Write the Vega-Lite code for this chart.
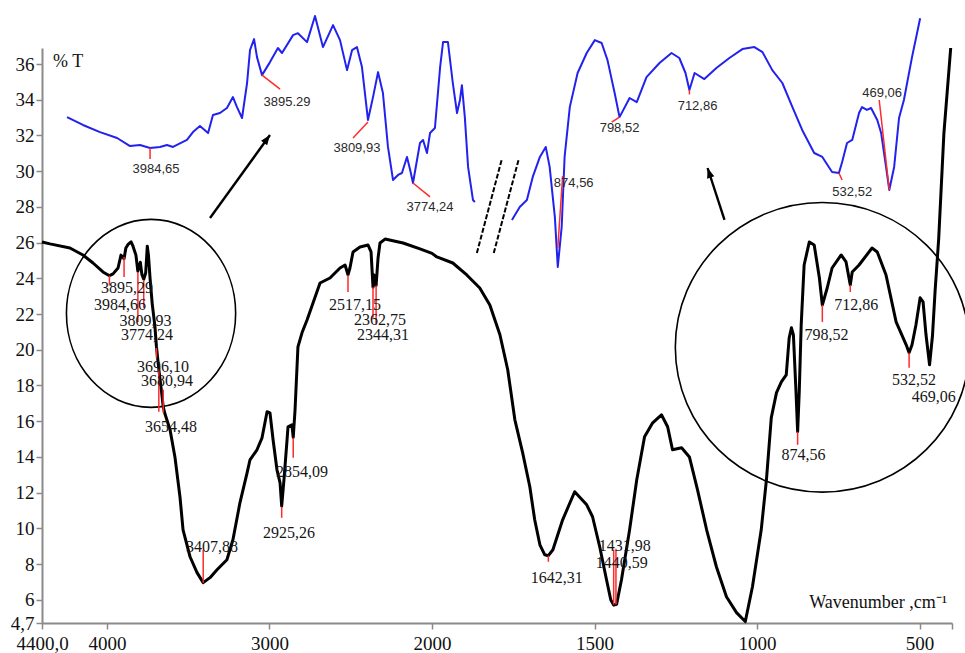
{
  "$schema": "https://vega.github.io/schema/vega-lite/v6.json",
  "width": 910,
  "height": 575,
  "autosize": {"type": "none"},
  "padding": {"left": 42, "top": 48, "right": 13, "bottom": 30},
  "background": "white",
  "config": {
    "view": {"stroke": null},
    "axis": {
      "grid": false,
      "domainColor": "#8a8a8a",
      "domainWidth": 2,
      "tickColor": "#8a8a8a",
      "tickWidth": 1.5,
      "tickSize": 6,
      "labelFont": "Liberation Serif",
      "labelFontSize": 19,
      "labelColor": "#111111",
      "title": null
    }
  },
  "datasets": {
    "spectrum": [
      {"wn": 4400, "t": 26.04}, {"wn": 4351, "t": 25.93}, {"wn": 4228, "t": 25.7}, {"wn": 4148, "t": 25.31},
      {"wn": 4086, "t": 24.86}, {"wn": 4025, "t": 24.36}, {"wn": 3985, "t": 24.15}, {"wn": 3963, "t": 24.25},
      {"wn": 3932, "t": 24.58}, {"wn": 3914, "t": 25.3}, {"wn": 3895, "t": 25.1}, {"wn": 3884, "t": 25.7},
      {"wn": 3870, "t": 25.9}, {"wn": 3852, "t": 26.05}, {"wn": 3840, "t": 25.8}, {"wn": 3822, "t": 25.3},
      {"wn": 3810, "t": 24.4}, {"wn": 3795, "t": 24.9}, {"wn": 3785, "t": 24.2}, {"wn": 3774, "t": 23.95},
      {"wn": 3762, "t": 24.3}, {"wn": 3752, "t": 25.8}, {"wn": 3745, "t": 25.3}, {"wn": 3735, "t": 24.0},
      {"wn": 3722, "t": 22.6}, {"wn": 3705, "t": 21.3}, {"wn": 3696, "t": 20.2}, {"wn": 3681, "t": 18.9},
      {"wn": 3665, "t": 17.7}, {"wn": 3654, "t": 16.8}, {"wn": 3643, "t": 16.4}, {"wn": 3612, "t": 15.52},
      {"wn": 3582, "t": 14.0}, {"wn": 3551, "t": 11.77}, {"wn": 3532, "t": 9.92}, {"wn": 3489, "t": 8.41},
      {"wn": 3446, "t": 7.52}, {"wn": 3408, "t": 6.96}, {"wn": 3366, "t": 7.24}, {"wn": 3323, "t": 7.68},
      {"wn": 3262, "t": 8.24}, {"wn": 3225, "t": 9.36}, {"wn": 3182, "t": 11.43}, {"wn": 3138, "t": 13.11},
      {"wn": 3120, "t": 13.84}, {"wn": 3077, "t": 14.4}, {"wn": 3046, "t": 15.07}, {"wn": 3015, "t": 16.53},
      {"wn": 2997, "t": 16.47}, {"wn": 2978, "t": 14.96}, {"wn": 2954, "t": 13.28}, {"wn": 2935, "t": 12.55},
      {"wn": 2925, "t": 11.25}, {"wn": 2911, "t": 12.72}, {"wn": 2892, "t": 14.96}, {"wn": 2886, "t": 15.69},
      {"wn": 2862, "t": 15.8}, {"wn": 2854, "t": 15.1}, {"wn": 2843, "t": 16.6}, {"wn": 2825, "t": 20.16},
      {"wn": 2800, "t": 20.95}, {"wn": 2769, "t": 21.67}, {"wn": 2689, "t": 23.74}, {"wn": 2628, "t": 24.02},
      {"wn": 2566, "t": 24.58}, {"wn": 2535, "t": 24.75}, {"wn": 2517, "t": 24.2}, {"wn": 2505, "t": 24.58},
      {"wn": 2486, "t": 25.48}, {"wn": 2443, "t": 25.76}, {"wn": 2394, "t": 25.87}, {"wn": 2375, "t": 25.48},
      {"wn": 2363, "t": 23.5}, {"wn": 2357, "t": 24.19}, {"wn": 2344, "t": 23.6}, {"wn": 2332, "t": 25.14},
      {"wn": 2320, "t": 25.98}, {"wn": 2289, "t": 26.2}, {"wn": 2178, "t": 25.98}, {"wn": 2074, "t": 25.65},
      {"wn": 2000, "t": 25.4}, {"wn": 1985, "t": 25.2}, {"wn": 1936, "t": 24.86}, {"wn": 1893, "t": 24.19},
      {"wn": 1853, "t": 23.46}, {"wn": 1822, "t": 22.51}, {"wn": 1791, "t": 20.84}, {"wn": 1767, "t": 18.88},
      {"wn": 1745, "t": 16.08}, {"wn": 1721, "t": 14.23}, {"wn": 1699, "t": 12.33}, {"wn": 1684, "t": 10.48},
      {"wn": 1668, "t": 9.08}, {"wn": 1653, "t": 8.52}, {"wn": 1642, "t": 8.47}, {"wn": 1628, "t": 8.8},
      {"wn": 1598, "t": 10.48}, {"wn": 1561, "t": 12.05}, {"wn": 1524, "t": 11.32}, {"wn": 1506, "t": 10.65},
      {"wn": 1484, "t": 8.97}, {"wn": 1463, "t": 7.12}, {"wn": 1450, "t": 6.0}, {"wn": 1441, "t": 5.7},
      {"wn": 1432, "t": 5.75}, {"wn": 1417, "t": 7.12}, {"wn": 1392, "t": 9.92}, {"wn": 1370, "t": 12.72},
      {"wn": 1346, "t": 15.13}, {"wn": 1321, "t": 15.91}, {"wn": 1294, "t": 16.36}, {"wn": 1275, "t": 15.69},
      {"wn": 1260, "t": 14.4}, {"wn": 1232, "t": 14.51}, {"wn": 1208, "t": 14.0}, {"wn": 1183, "t": 12.16},
      {"wn": 1155, "t": 9.92}, {"wn": 1125, "t": 7.85}, {"wn": 1094, "t": 6.17}, {"wn": 1063, "t": 5.28},
      {"wn": 1036, "t": 4.78}, {"wn": 1014, "t": 6.73}, {"wn": 987, "t": 9.92}, {"wn": 971, "t": 12.72},
      {"wn": 956, "t": 16.2}, {"wn": 940, "t": 17.6}, {"wn": 925, "t": 18.2}, {"wn": 910, "t": 18.6},
      {"wn": 901, "t": 20.67}, {"wn": 894, "t": 21.23}, {"wn": 888, "t": 20.84}, {"wn": 880, "t": 17.65},
      {"wn": 875, "t": 15.41}, {"wn": 870, "t": 17.65}, {"wn": 864, "t": 21.4}, {"wn": 855, "t": 24.75},
      {"wn": 839, "t": 26.04}, {"wn": 824, "t": 25.87}, {"wn": 808, "t": 24.02}, {"wn": 799, "t": 22.51},
      {"wn": 784, "t": 23.46}, {"wn": 769, "t": 24.58}, {"wn": 741, "t": 25.31}, {"wn": 726, "t": 24.92},
      {"wn": 713, "t": 23.63}, {"wn": 707, "t": 24.36}, {"wn": 686, "t": 24.75}, {"wn": 646, "t": 25.7},
      {"wn": 630, "t": 25.48}, {"wn": 603, "t": 24.19}, {"wn": 572, "t": 21.56}, {"wn": 541, "t": 20.28},
      {"wn": 532, "t": 19.83}, {"wn": 523, "t": 20.28}, {"wn": 511, "t": 21.39}, {"wn": 498, "t": 22.91},
      {"wn": 489, "t": 22.68}, {"wn": 480, "t": 20.84}, {"wn": 469, "t": 19.16}, {"wn": 460, "t": 20.8},
      {"wn": 452, "t": 23.3}, {"wn": 441, "t": 26.2}, {"wn": 425, "t": 32.1}, {"wn": 404, "t": 36.9}
    ],
    "zoomed": [
      {"seg": 1, "wn": 4246, "t": 33.03}, {"seg": 1, "wn": 4148, "t": 32.59}, {"seg": 1, "wn": 4043, "t": 32.19},
      {"seg": 1, "wn": 3938, "t": 31.86}, {"seg": 1, "wn": 3858, "t": 31.41}, {"seg": 1, "wn": 3797, "t": 31.47},
      {"seg": 1, "wn": 3735, "t": 31.3}, {"seg": 1, "wn": 3674, "t": 31.36}, {"seg": 1, "wn": 3631, "t": 31.47},
      {"seg": 1, "wn": 3594, "t": 31.36}, {"seg": 1, "wn": 3508, "t": 31.75}, {"seg": 1, "wn": 3471, "t": 32.19},
      {"seg": 1, "wn": 3428, "t": 32.53}, {"seg": 1, "wn": 3378, "t": 32.14}, {"seg": 1, "wn": 3348, "t": 33.15},
      {"seg": 1, "wn": 3305, "t": 33.26}, {"seg": 1, "wn": 3262, "t": 33.54}, {"seg": 1, "wn": 3225, "t": 34.15},
      {"seg": 1, "wn": 3200, "t": 33.59}, {"seg": 1, "wn": 3169, "t": 32.98}, {"seg": 1, "wn": 3138, "t": 34.94},
      {"seg": 1, "wn": 3120, "t": 36.78}, {"seg": 1, "wn": 3095, "t": 37.4}, {"seg": 1, "wn": 3077, "t": 36.39},
      {"seg": 1, "wn": 3046, "t": 35.38}, {"seg": 1, "wn": 2997, "t": 36.11}, {"seg": 1, "wn": 2948, "t": 36.9},
      {"seg": 1, "wn": 2923, "t": 36.62}, {"seg": 1, "wn": 2855, "t": 37.62}, {"seg": 1, "wn": 2825, "t": 37.73},
      {"seg": 1, "wn": 2769, "t": 37.23}, {"seg": 1, "wn": 2720, "t": 38.69}, {"seg": 1, "wn": 2671, "t": 36.95},
      {"seg": 1, "wn": 2609, "t": 38.18}, {"seg": 1, "wn": 2566, "t": 37.34}, {"seg": 1, "wn": 2523, "t": 35.66},
      {"seg": 1, "wn": 2492, "t": 36.78}, {"seg": 1, "wn": 2462, "t": 36.95}, {"seg": 1, "wn": 2431, "t": 35.83},
      {"seg": 1, "wn": 2394, "t": 32.87}, {"seg": 1, "wn": 2363, "t": 34.15}, {"seg": 1, "wn": 2332, "t": 35.55},
      {"seg": 1, "wn": 2302, "t": 34.38}, {"seg": 1, "wn": 2271, "t": 31.36}, {"seg": 1, "wn": 2240, "t": 29.51},
      {"seg": 1, "wn": 2209, "t": 29.79}, {"seg": 1, "wn": 2185, "t": 29.9}, {"seg": 1, "wn": 2154, "t": 30.8},
      {"seg": 1, "wn": 2135, "t": 30.1}, {"seg": 1, "wn": 2117, "t": 29.34}, {"seg": 1, "wn": 2074, "t": 31.58},
      {"seg": 1, "wn": 2055, "t": 31.75}, {"seg": 1, "wn": 2031, "t": 31.02}, {"seg": 1, "wn": 2012, "t": 32.14},
      {"seg": 1, "wn": 1991, "t": 32.42}, {"seg": 1, "wn": 1975, "t": 35.83}, {"seg": 1, "wn": 1966, "t": 37.23},
      {"seg": 1, "wn": 1951, "t": 37.23}, {"seg": 1, "wn": 1936, "t": 34.94}, {"seg": 1, "wn": 1923, "t": 33.26},
      {"seg": 1, "wn": 1914, "t": 33.99}, {"seg": 1, "wn": 1908, "t": 34.82}, {"seg": 1, "wn": 1899, "t": 33.03},
      {"seg": 1, "wn": 1889, "t": 30.24}, {"seg": 1, "wn": 1874, "t": 28.39}, {"seg": 1, "wn": 1868, "t": 28.28},
      {"seg": 2, "wn": 1754, "t": 27.27}, {"seg": 2, "wn": 1730, "t": 28.0}, {"seg": 2, "wn": 1708, "t": 28.39},
      {"seg": 2, "wn": 1690, "t": 29.68}, {"seg": 2, "wn": 1668, "t": 30.8}, {"seg": 2, "wn": 1650, "t": 31.36},
      {"seg": 2, "wn": 1638, "t": 30.24}, {"seg": 2, "wn": 1622, "t": 27.44}, {"seg": 2, "wn": 1613, "t": 24.64},
      {"seg": 2, "wn": 1601, "t": 26.88}, {"seg": 2, "wn": 1592, "t": 30.8}, {"seg": 2, "wn": 1576, "t": 33.59},
      {"seg": 2, "wn": 1552, "t": 35.5}, {"seg": 2, "wn": 1524, "t": 36.62}, {"seg": 2, "wn": 1499, "t": 37.34},
      {"seg": 2, "wn": 1478, "t": 37.18}, {"seg": 2, "wn": 1460, "t": 36.22}, {"seg": 2, "wn": 1438, "t": 34.38},
      {"seg": 2, "wn": 1423, "t": 33.03}, {"seg": 2, "wn": 1392, "t": 34.1}, {"seg": 2, "wn": 1370, "t": 33.87},
      {"seg": 2, "wn": 1340, "t": 35.27}, {"seg": 2, "wn": 1300, "t": 36.06}, {"seg": 2, "wn": 1263, "t": 36.62},
      {"seg": 2, "wn": 1239, "t": 36.34}, {"seg": 2, "wn": 1220, "t": 35.5}, {"seg": 2, "wn": 1208, "t": 34.55},
      {"seg": 2, "wn": 1192, "t": 35.5}, {"seg": 2, "wn": 1162, "t": 35.16}, {"seg": 2, "wn": 1125, "t": 35.78},
      {"seg": 2, "wn": 1085, "t": 36.34}, {"seg": 2, "wn": 1045, "t": 36.84}, {"seg": 2, "wn": 1008, "t": 36.95},
      {"seg": 2, "wn": 983, "t": 36.67}, {"seg": 2, "wn": 953, "t": 35.66}, {"seg": 2, "wn": 922, "t": 34.94},
      {"seg": 2, "wn": 891, "t": 33.59}, {"seg": 2, "wn": 861, "t": 32.31}, {"seg": 2, "wn": 824, "t": 31.02},
      {"seg": 2, "wn": 799, "t": 30.8}, {"seg": 2, "wn": 769, "t": 29.96}, {"seg": 2, "wn": 748, "t": 29.9},
      {"seg": 2, "wn": 738, "t": 30.52}, {"seg": 2, "wn": 723, "t": 31.58}, {"seg": 2, "wn": 707, "t": 31.75},
      {"seg": 2, "wn": 686, "t": 33.26}, {"seg": 2, "wn": 677, "t": 33.59}, {"seg": 2, "wn": 662, "t": 33.43},
      {"seg": 2, "wn": 649, "t": 33.54}, {"seg": 2, "wn": 630, "t": 32.87}, {"seg": 2, "wn": 618, "t": 32.14},
      {"seg": 2, "wn": 603, "t": 30.24}, {"seg": 2, "wn": 593, "t": 28.95}, {"seg": 2, "wn": 578, "t": 30.24},
      {"seg": 2, "wn": 563, "t": 32.98}, {"seg": 2, "wn": 548, "t": 33.99}, {"seg": 2, "wn": 523, "t": 36.39},
      {"seg": 2, "wn": 498, "t": 38.57}
    ],
    "peakMarks": [
      {"wn": 3985, "t": 24.15, "wn2": 3985, "t2": 23.6},
      {"wn": 3895, "t": 25.2, "wn2": 3895, "t2": 24.08},
      {"wn": 3810, "t": 24.36, "wn2": 3810, "t2": 21.56},
      {"wn": 3774, "t": 23.91, "wn2": 3774, "t2": 22.35},
      {"wn": 3696, "t": 20.1, "wn2": 3696, "t2": 19.55},
      {"wn": 3681, "t": 18.93, "wn2": 3681, "t2": 16.53},
      {"wn": 3654, "t": 17.76, "wn2": 3654, "t2": 16.47},
      {"wn": 3408, "t": 8.8, "wn2": 3408, "t2": 6.96},
      {"wn": 2925, "t": 11.21, "wn2": 2925, "t2": 10.59},
      {"wn": 2854, "t": 15.07, "wn2": 2854, "t2": 13.95},
      {"wn": 2517, "t": 24.19, "wn2": 2517, "t2": 23.24},
      {"wn": 2363, "t": 23.5, "wn2": 2363, "t2": 21.8},
      {"wn": 2344, "t": 23.6, "wn2": 2344, "t2": 21.4},
      {"wn": 1642, "t": 8.47, "wn2": 1642, "t2": 8.13},
      {"wn": 1441, "t": 8.8, "wn2": 1441, "t2": 5.73},
      {"wn": 1434, "t": 8.8, "wn2": 1434, "t2": 5.73},
      {"wn": 875, "t": 15.41, "wn2": 875, "t2": 14.68},
      {"wn": 799, "t": 22.51, "wn2": 799, "t2": 21.56},
      {"wn": 713, "t": 23.63, "wn2": 713, "t2": 23.24},
      {"wn": 532, "t": 19.83, "wn2": 532, "t2": 18.99},
      {"wn": 3735, "t": 31.3, "wn2": 3735, "t2": 30.68},
      {"wn": 3046, "t": 35.38, "wn2": 2935, "t2": 34.6},
      {"wn": 2394, "t": 32.75, "wn2": 2486, "t2": 31.86},
      {"wn": 2117, "t": 29.34, "wn2": 2012, "t2": 28.56},
      {"wn": 1598, "t": 29.73, "wn2": 1613, "t2": 25.7},
      {"wn": 1423, "t": 33.03, "wn2": 1447, "t2": 32.75},
      {"wn": 1208, "t": 34.55, "wn2": 1208, "t2": 34.3},
      {"wn": 748, "t": 29.9, "wn2": 738, "t2": 29.51},
      {"wn": 593, "t": 28.95, "wn2": 624, "t2": 33.99}
    ],
    "mainLabels": [
      {"wn": 3920, "t": 22.51, "label": "3984,66"},
      {"wn": 3877, "t": 23.46, "label": "3895,29"},
      {"wn": 3763, "t": 21.62, "label": "3809,93"},
      {"wn": 3754, "t": 20.84, "label": "3774,24"},
      {"wn": 3655, "t": 19.04, "label": "3696,10"},
      {"wn": 3631, "t": 18.26, "label": "3680,94"},
      {"wn": 3606, "t": 15.69, "label": "3654,48"},
      {"wn": 3354, "t": 8.97, "label": "3407,88"},
      {"wn": 2880, "t": 9.75, "label": "2925,26"},
      {"wn": 2800, "t": 13.17, "label": "2854,09"},
      {"wn": 2474, "t": 22.51, "label": "2517,15"},
      {"wn": 2320, "t": 21.67, "label": "2362,75"},
      {"wn": 2302, "t": 20.84, "label": "2344,31"},
      {"wn": 1616, "t": 7.24, "label": "1642,31"},
      {"wn": 1407, "t": 9.03, "label": "1431,98"},
      {"wn": 1416, "t": 8.08, "label": "1440,59"},
      {"wn": 857, "t": 14.12, "label": "874,56"},
      {"wn": 786, "t": 20.84, "label": "798,52"},
      {"wn": 695, "t": 22.51, "label": "712,86"},
      {"wn": 517, "t": 18.32, "label": "532,52"},
      {"wn": 456, "t": 17.37, "label": "469,06"}
    ],
    "zoomLabels": [
      {"wn": 3698, "t": 30.12, "label": "3984,65"},
      {"wn": 2892, "t": 33.87, "label": "3895.29"},
      {"wn": 2462, "t": 31.3, "label": "3809,93"},
      {"wn": 2012, "t": 28.0, "label": "3774,24"},
      {"wn": 1564, "t": 29.34, "label": "874,56"},
      {"wn": 1423, "t": 32.42, "label": "798,52"},
      {"wn": 1183, "t": 33.65, "label": "712,86"},
      {"wn": 707, "t": 28.84, "label": "532,52"},
      {"wn": 615, "t": 34.38, "label": "469,06"}
    ],
    "arrows": [
      {"wn": 3366, "t": 27.38, "wn2": 2997, "t2": 32.03},
      {"wn": 1100, "t": 27.27, "wn2": 1152, "t2": 30.18}
    ],
    "breaks": [
      {"wn": 1862, "t": 25.42, "wn2": 1785, "t2": 30.68},
      {"wn": 1810, "t": 25.42, "wn2": 1733, "t2": 30.68}
    ]
  },
  "encoding": {
    "x": {
      "field": "wn",
      "type": "quantitative",
      "scale": {"domain": [4400, 2000, 400], "range": [0, 390, 910], "nice": false, "zero": false},
      "axis": {
        "values": [4400, 4000, 3000, 2000, 1500, 1000, 500, 400],
        "format": "d",
        "labelExpr": "datum.value == 4400 ? '4400,0' : (datum.value == 400 ? '' : datum.label)",
        "labelPadding": 5,
        "labelOverlap": false,
        "labelFlush": false,
        "encode": {"labels": {"update": {"dx": {"signal": "datum.value == 4400 ? 8 : 0"}}}}
      }
    },
    "y": {
      "field": "t",
      "type": "quantitative",
      "scale": {"domain": [4.7, 36.9], "nice": false, "zero": false},
      "axis": {
        "values": [4.7, 6, 8, 10, 12, 14, 16, 18, 20, 22, 24, 26, 28, 30, 32, 34, 36],
        "labelExpr": "datum.value == 4.7 ? '4,7' : datum.label",
        "labelPadding": 2,
        "labelOverlap": false,
        "labelFlush": false
      }
    }
  },
  "layer": [
    {
      "data": {"values": [{"wn": 3729, "t": 22.04}]},
      "mark": {"type": "point", "filled": false, "opacity": 1, "stroke": "#000000", "strokeWidth": 1.6, "size": 35344,
               "shape": "M -0.9 0 A 0.9 1 0 1 0 0.9 0 A 0.9 1 0 1 0 -0.9 0 Z", "clip": false}
    },
    {
      "data": {"values": [{"wn": 799, "t": 20.14}]},
      "mark": {"type": "point", "filled": false, "opacity": 1, "stroke": "#000000", "strokeWidth": 1.6, "size": 86436,
               "shape": "M -1 0 A 1 0.985 0 1 0 1 0 A 1 0.985 0 1 0 -1 0 Z", "clip": false}
    },
    {
      "data": {"name": "arrows"},
      "mark": {"type": "rule", "color": "#000000", "strokeWidth": 2.4, "clip": false},
      "encoding": {"x2": {"field": "wn2"}, "y2": {"field": "t2"}}
    },
    {
      "data": {"values": [{"wn": 2997, "t": 32.03}]},
      "mark": {"type": "point", "filled": true, "opacity": 1, "color": "#000000", "size": 100, "angle": 36,
               "shape": "M 0 0 L -0.75 2 L 0.75 2 Z", "clip": false}
    },
    {
      "data": {"values": [{"wn": 1152, "t": 30.18}]},
      "mark": {"type": "point", "filled": true, "opacity": 1, "color": "#000000", "size": 100, "angle": -18,
               "shape": "M 0 0 L -0.75 2 L 0.75 2 Z", "clip": false}
    },
    {
      "data": {"name": "breaks"},
      "mark": {"type": "rule", "color": "#000000", "strokeWidth": 2, "strokeDash": [5, 2], "clip": false},
      "encoding": {"x2": {"field": "wn2"}, "y2": {"field": "t2"}}
    },
    {
      "data": {"name": "spectrum"},
      "mark": {"type": "line", "color": "#000000", "strokeWidth": 3, "strokeJoin": "round", "clip": false}
    },
    {
      "data": {"name": "zoomed"},
      "mark": {"type": "line", "color": "#2222ee", "strokeWidth": 2, "strokeJoin": "round", "clip": false},
      "encoding": {"detail": {"field": "seg", "type": "nominal"}}
    },
    {
      "data": {"name": "peakMarks"},
      "mark": {"type": "rule", "color": "#ff2a2a", "strokeWidth": 1.5, "clip": false},
      "encoding": {"x2": {"field": "wn2"}, "y2": {"field": "t2"}}
    },
    {
      "data": {"name": "mainLabels"},
      "mark": {"type": "text", "font": "Liberation Serif", "fontSize": 16, "color": "#161616", "align": "center", "baseline": "middle", "clip": false},
      "encoding": {"text": {"field": "label", "type": "nominal"}}
    },
    {
      "data": {"name": "zoomLabels"},
      "mark": {"type": "text", "font": "Liberation Sans", "fontSize": 13, "color": "#2a2a2a", "align": "center", "baseline": "middle", "clip": false},
      "encoding": {"text": {"field": "label", "type": "nominal"}}
    },
    {
      "data": {"values": [{"wn": 4332, "t": 36.1, "label": "% T"}]},
      "mark": {"type": "text", "font": "Liberation Serif", "fontSize": 18, "color": "#111111", "align": "left", "baseline": "middle", "clip": false},
      "encoding": {"text": {"field": "label", "type": "nominal"}}
    },
    {
      "data": {"values": [{"wn": 839, "t": 5.8, "label": "Wavenumber ,cm⁻¹"}]},
      "mark": {"type": "text", "font": "Liberation Serif", "fontSize": 18, "color": "#111111", "align": "left", "baseline": "middle", "clip": false},
      "encoding": {"text": {"field": "label", "type": "nominal"}}
    }
  ]
}
